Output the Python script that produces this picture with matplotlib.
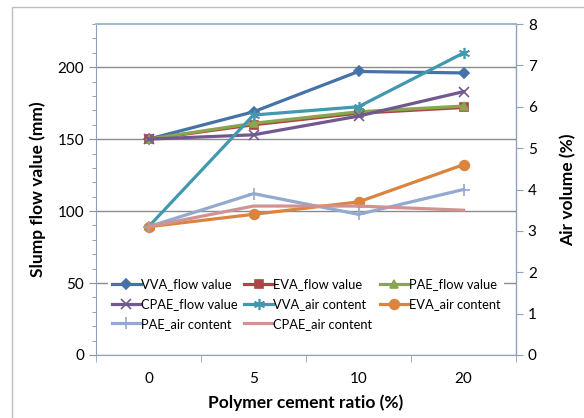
import matplotlib.pyplot as plt
from matplotlib.patches import Rectangle

plt.rcParams['font.family'] = ['Lato', 'DejaVu Sans']

ratios = ["0", "5", "10", "20"]

# slump flow (mm), left axis
vva_flow = [150, 169, 197, 196]
eva_flow = [150, 160, 168, 172]
pae_flow = [150, 161, 169, 173]
cpae_flow = [150, 153, 166, 183]

# air content (%), right axis
vva_air = [3.1, 5.8, 6.0, 7.3]
eva_air = [3.1, 3.4, 3.7, 4.6]
pae_air = [3.1, 3.9, 3.4, 4.0]
cpae_air = [3.1, 3.6, 3.6, 3.5]

x = range(len(ratios))

fig = plt.figure(figsize=(5.84, 4.18), dpi=100)
fig.patches.append(Rectangle((12 / 584, -0.05), 1.2, (418 - 7) / 418 + 0.05,
                             transform=fig.transFigure, fill=False,
                             edgecolor="#BEBEBE", linewidth=1.0))

ax = fig.add_axes([96 / 584, 63 / 418, 420 / 584, 331 / 418])
ax2 = ax.twinx()

lw = 2.3
styles = [
    (ax, vva_flow, "VVA_flow value", "#4572A7", "D", 5),
    (ax, eva_flow, "EVA_flow value", "#AA4643", "s", 6),
    (ax, pae_flow, "PAE_flow value", "#89A54E", "^", 6),
    (ax, cpae_flow, "CPAE_flow value", "#71588F", "x", 7),
    (ax2, vva_air, "VVA_air content", "#4198AF", (6, 2, 0), 8),
    (ax2, eva_air, "EVA_air content", "#DB843D", "o", 7),
    (ax2, pae_air, "PAE_air content", "#93A9CF", "+", 8),
    (ax2, cpae_air, "CPAE_air content", "#D19392", None, 0),
]
handles = []
for a, vals, label, c, m, ms in styles:
    h, = a.plot(x, vals, color=c, marker=m, markersize=ms, linewidth=lw,
                markeredgewidth=1.2, label=label, zorder=3)
    handles.append(h)

ax.set_xlim(-0.5, 3.5)
ax.set_ylim(0, 230)
ax.set_yticks([0, 50, 100, 150, 200])
ax.set_yticks(range(0, 231, 10), minor=True)
ax2.set_ylim(0, 8)
ax2.set_yticks(range(0, 9))

ax.set_xticks(list(x))
ax.set_xticklabels(ratios)
ax.set_xticks([-0.5, 0.5, 1.5, 2.5, 3.5], minor=True)
ax.tick_params(axis="x", which="major", length=0, pad=12, labelsize=11)
ax.tick_params(axis="x", which="minor", length=5, color="#8EA2BE", direction="out")
ax.tick_params(axis="y", which="both", direction="out", color="#8E8E8E", labelsize=11)
ax.tick_params(axis="y", which="major", length=5)
ax.tick_params(axis="y", which="minor", length=3)
ax2.tick_params(axis="y", direction="out", length=5, color="#8EA2BE", labelsize=11)

ax.grid(axis="y", which="major", color="#8C8C8C", linewidth=1.0)
ax.set_axisbelow(True)

ax.spines["left"].set_color("#8EA2BE")
ax.spines["bottom"].set_color("#8EA2BE")
ax2.spines["right"].set_color("#8EA2BE")
for a in (ax, ax2):
    a.spines["top"].set_color("#9DB6D6")
    a.spines["top"].set_linewidth(1.2)
ax2.spines["left"].set_visible(False)
ax2.spines["bottom"].set_visible(False)

ax.set_xlabel("Polymer cement ratio (%)", fontsize=12.5, fontweight="bold", labelpad=6)
ax.set_ylabel("Slump flow value (mm)", fontsize=12.5, fontweight="bold", labelpad=8)
ax2.set_ylabel("Air volume (%)", fontsize=12.5, fontweight="bold", rotation=90, labelpad=17)

# fill the legend row by row
order = [0, 3, 6, 1, 4, 7, 2, 5]
leg = ax2.legend([handles[i] for i in order], [handles[i].get_label() for i in order],
                 ncol=3, loc="lower center", bbox_to_anchor=(0.5, 0.045),
                 frameon=True, fancybox=False, edgecolor="none", framealpha=1,
                 fontsize=9.3, handlelength=2.25, handletextpad=0.0,
                 columnspacing=0.55, labelspacing=0.6, borderpad=0.3)
leg.set_zorder(5)

fig.savefig("out.png", dpi=100)
